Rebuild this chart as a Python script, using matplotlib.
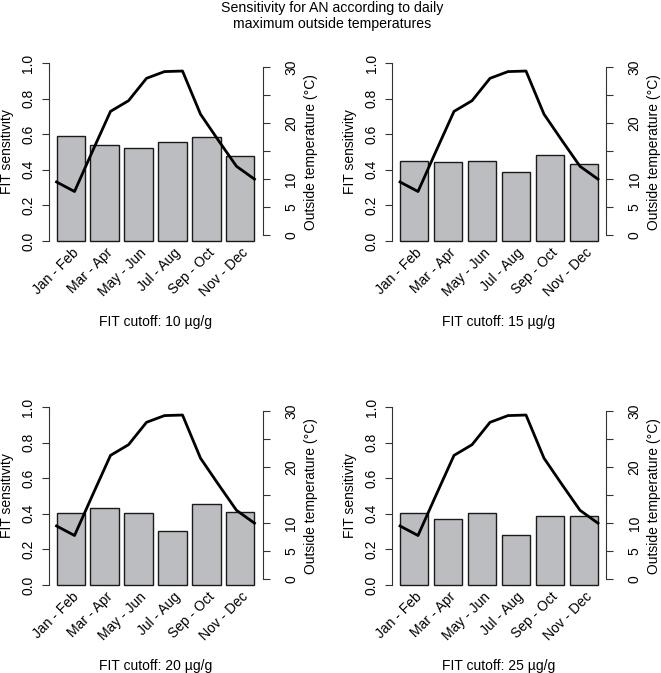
import numpy as np
from matplotlib import pyplot as plt

periods = ['Jan - Feb', 'Mar - Apr', 'May - Jun', 'Jul - Aug', 'Sep - Oct', 'Nov - Dec']
cutoffs = [10, 15, 20, 25]

sens_10 = [0.590, 0.538, 0.522, 0.555, 0.582, 0.477]
sens_15 = [0.448, 0.446, 0.452, 0.388, 0.484, 0.433]
sens_20 = [0.406, 0.431, 0.404, 0.305, 0.453, 0.408]
sens_25 = [0.406, 0.369, 0.404, 0.279, 0.386, 0.386]

# monthly mean of daily max outside temperature, Jan..Dec
temp_max = [9.5, 7.8, 15.0, 22.1, 24.0, 28.0, 29.2, 29.3, 21.6, 16.9, 12.3, 10.0]

temp_ticks = [0, 5, 10, 15, 20, 25, 30]
temp_ticklabels = ['0', '5', '10', '', '20', '', '30']

if __name__ == '__main__':
    plt.rcParams['font.family'] = 'Liberation Sans'
    plt.rcParams['font.size'] = 10

    W, H = 661, 673
    fig = plt.figure(figsize=(W / 100, H / 100), dpi=100)

    fig.text(0.502, 1 - 1 / H,
             'Sensitivity for AN according to daily\nmaximum outside temperatures',
             ha='center', va='top', fontsize=10.2, linespacing=1.15)

    # plot regions in pixels (left, top)
    lefts = [48.5, 392.0]
    tops = [55.9, 399.9]
    pw, ph = 214.0, 192.2

    all_sens = [sens_10, sens_15, sens_20, sens_25]
    bw = 1 / 1.2
    xb = np.arange(len(periods))
    xt = np.linspace(xb[0] - bw / 2, xb[-1] + bw / 2, len(temp_max))

    for k, (cut, sens) in enumerate(zip(cutoffs, all_sens)):
        r, c = divmod(k, 2)
        rect = [lefts[c] / W, 1 - (tops[r] + ph) / H, pw / W, ph / H]
        ax = fig.add_axes(rect)

        ax.bar(xb, sens, width=bw, color='#bcbdc0', edgecolor='#1a1a1a', linewidth=1.0)
        ax.set_xlim(-0.653, 5.653)
        ax.set_ylim(-0.04, 1.04)

        for s in ['top', 'right', 'bottom']:
            ax.spines[s].set_visible(False)
        ax.spines['left'].set_bounds(0, 1)
        ax.spines['left'].set_color('#333333')
        ax.set_xticks([])
        ax.set_yticks(np.arange(0, 1.01, 0.2))
        ax.set_yticklabels([f'{v:.1f}' for v in np.arange(0, 1.01, 0.2)])
        ax.tick_params(axis='y', length=5, width=0.8, pad=4.5, color='#333333')
        for lab in ax.get_yticklabels():
            lab.set_rotation(90)
            lab.set_va('center')
        ax.set_ylabel('FIT sensitivity')
        ax.yaxis.set_label_coords(-0.163, 0.5)

        for i, p in enumerate(periods):
            ax.text(xb[i] + 0.17, -0.055, p, rotation=45, ha='right', va='center',
                    rotation_mode='anchor')

        ax.text(0.5, -0.385, f'FIT cutoff: {cut} µg/g', transform=ax.transAxes,
                ha='center', va='center')

        ax2 = ax.twinx()
        ax2.plot(xt, temp_max, color='black', linewidth=2.0)
        ax2.set_ylim(-2.3, 32.0)
        for s in ['top', 'left', 'bottom']:
            ax2.spines[s].set_visible(False)
        ax2.spines['right'].set_bounds(0, 30)
        ax2.spines['right'].set_color('#333333')
        ax2.set_yticks(temp_ticks)
        ax2.set_yticklabels(temp_ticklabels)
        ax2.tick_params(axis='y', length=5, width=0.8, pad=10.5, color='#333333')
        for lab in ax2.get_yticklabels():
            lab.set_rotation(90)
            lab.set_va('center')
        ax2.set_ylabel('Outside temperature (°C)')
        ax2.yaxis.set_label_coords(1.192, 0.5)

    fig.savefig('out.png', dpi=100)
    plt.close(fig)
